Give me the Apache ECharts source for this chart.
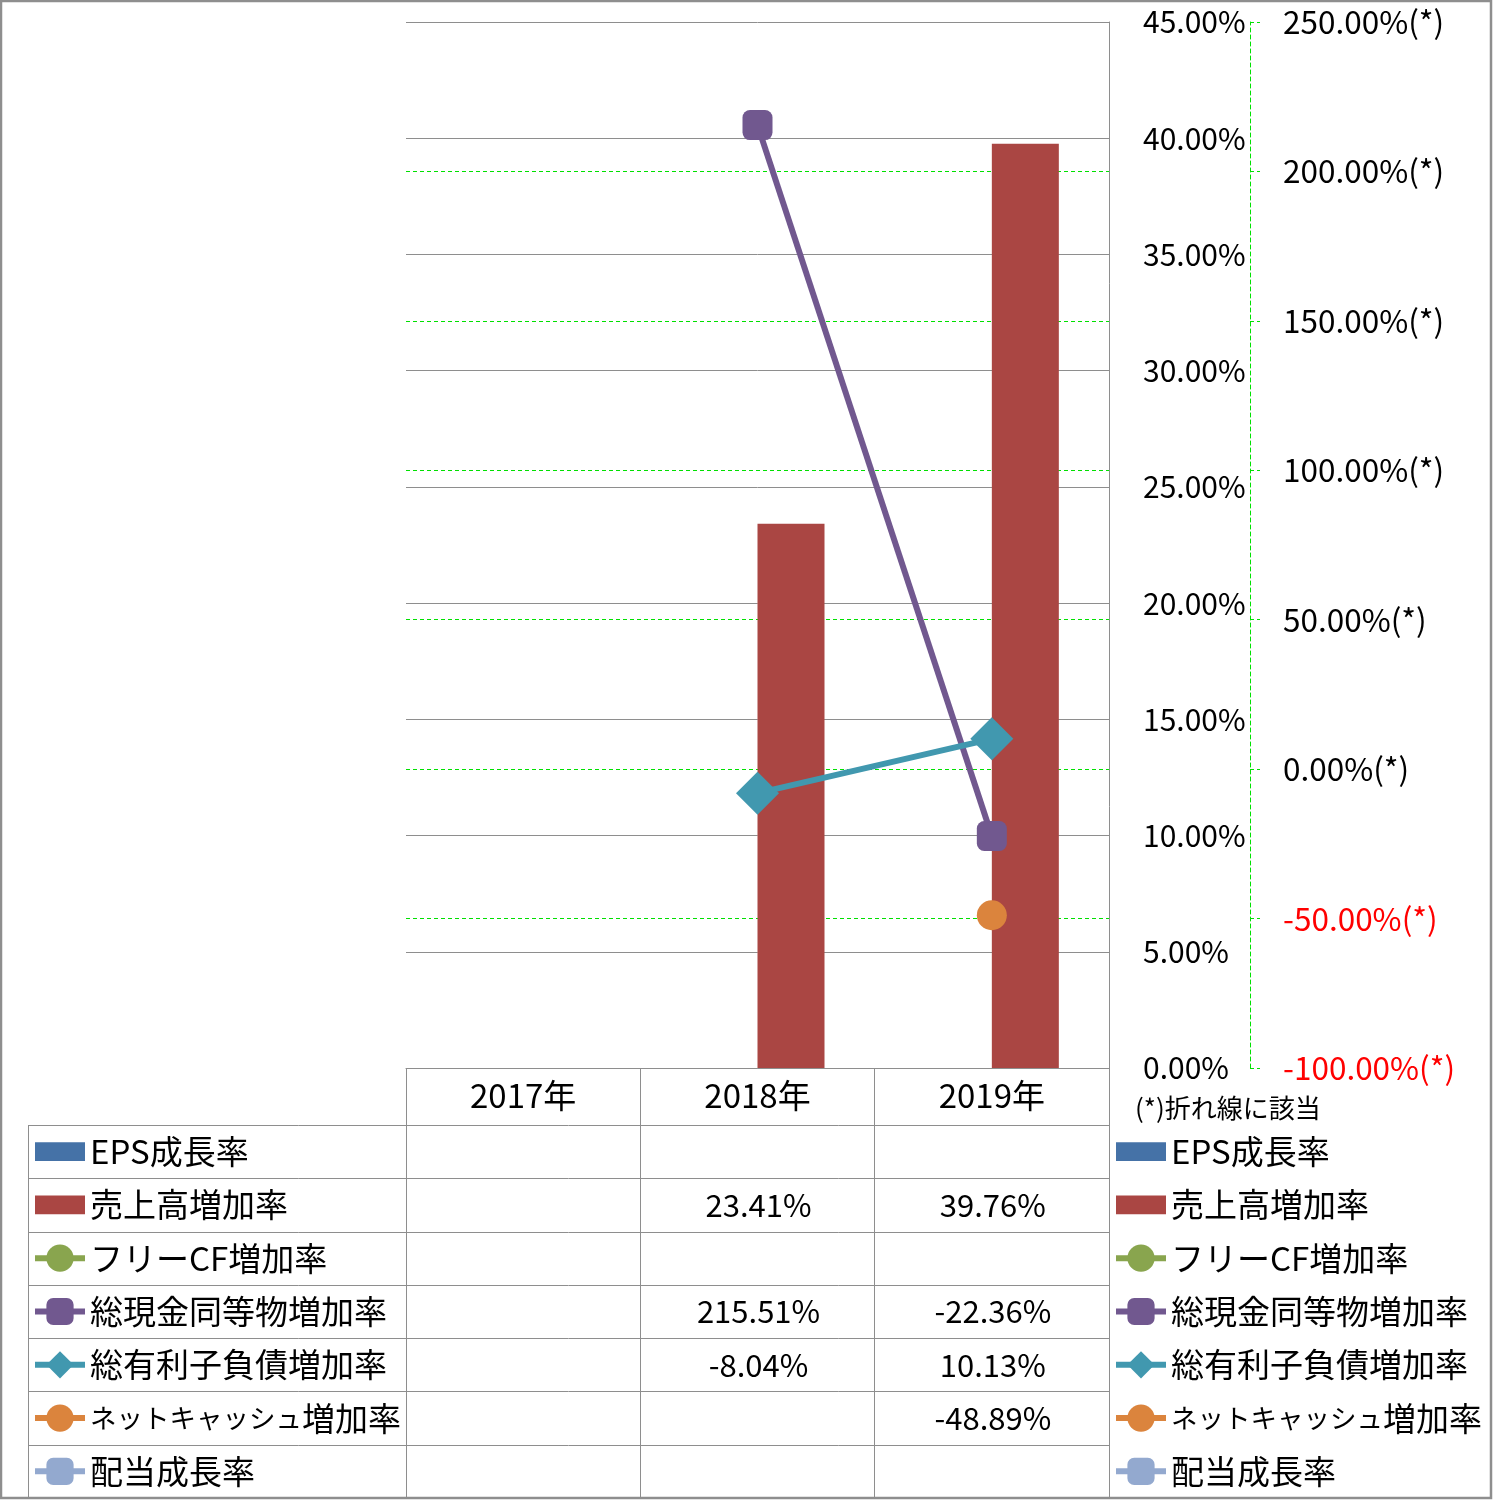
<!DOCTYPE html>
<html><head><meta charset="utf-8">
<script src="https://cdn.jsdelivr.net/npm/echarts@6/dist/echarts.min.js"></script>
<style>html,body{margin:0;padding:0;background:#fff}#c{width:1493px;height:1500px}</style>
</head><body><div id="c"></div>
<script>
const categories = ['2017年', '2018年', '2019年'];
const epsGrowth = [null, null, null];
const salesGrowth = [null, 23.41, 39.76];
const freeCfGrowth = [null, null, null];
const cashGrowth = [null, 215.51, -22.36];
const debtGrowth = [null, -8.04, 10.13];
const netCashGrowth = [null, null, -48.89];
const dividendGrowth = [null, null, null];
const leftAxis = { min: 0, max: 45, interval: 5 };
const rightAxis = { min: -100, max: 250, interval: 50 };
const seriesNames = ['EPS成長率', '売上高増加率', 'フリーCF増加率', '総現金同等物増加率', '総有利子負債増加率', 'ネットキャッシュ増加率', '配当成長率'];
const noteText = '(*)折れ線に該当';

const FONT = '"Noto Sans CJK JP", "Noto Sans", sans-serif';
const GRID_GREY = '#8e8e8e';
const GREEN = '#00e000';
const ROW_TOP = 1125, ROW_H = 373 / 7;

const chart = echarts.init(document.getElementById('c'));
const barIcon = 'path://M0,0 L45,0 L45,17 L0,17 Z';
const legendData = seriesNames.map((n, i) => (i < 2 ? { name: n, icon: barIcon } : { name: n }));
const legendFormatter = name => {
  const m = name.match(/^([\u30A0-\u30FF]+)(.*)$/);
  if (m && /[ッャュョ]/.test(m[1])) return '{k|' + m[1] + '}{n|' + m[2] + '}';
  return name;
};
const legendBase = {
  orient: 'vertical', top: ROW_TOP + ROW_H / 2 - 17, itemWidth: 50, itemHeight: 34, itemGap: ROW_H - 34,
  padding: 0, selectedMode: false, data: legendData, formatter: legendFormatter,
  lineStyle: { width: 6 },
  textStyle: {
    fontFamily: FONT, fontSize: 33, color: '#000', lineHeight: 34,
    rich: {
      k: { fontFamily: FONT, fontSize: 26.5, color: '#000', lineHeight: 34 },
      n: { fontFamily: FONT, fontSize: 33, color: '#000', lineHeight: 34 }
    }
  }
};
const lineSeries = (name, data, color, symbol, size) => ({
  name, type: 'line', yAxisIndex: 1, data, symbol, symbolSize: size,
  lineStyle: { color, width: 6 }, itemStyle: { color },
  emphasis: { disabled: true }, animation: false
});

const option = {
  backgroundColor: '#fff',
  animation: false,
  textStyle: { fontFamily: FONT },
  grid: { left: 406, right: 384, top: 22, bottom: 432, containLabel: false },
  legend: [Object.assign({ left: 32 }, legendBase), Object.assign({ left: 1113 }, legendBase)],
  xAxis: {
    type: 'category', data: categories,
    axisLine: { show: true, lineStyle: { color: GRID_GREY, width: 1 } },
    axisTick: { show: true, length: 430, lineStyle: { color: GRID_GREY, width: 1 } },
    axisLabel: { margin: 11, fontSize: 33, color: '#000', fontFamily: FONT }
  },
  yAxis: [
    {
      type: 'value', position: 'right', min: leftAxis.min, max: leftAxis.max, interval: leftAxis.interval,
      axisLine: { show: true, lineStyle: { color: GRID_GREY, width: 1 } },
      axisTick: { show: false },
      splitLine: { show: true, lineStyle: { color: GRID_GREY, width: 1 } },
      axisLabel: { margin: 34, fontSize: 30, color: '#000', fontFamily: FONT, formatter: v => v.toFixed(2) + '%' }
    },
    {
      type: 'value', position: 'right', offset: 141, min: rightAxis.min, max: rightAxis.max, interval: rightAxis.interval,
      axisLine: { show: true, lineStyle: { color: GREEN, width: 1, type: [4, 3] } },
      axisTick: { show: true, length: 10, lineStyle: { color: GREEN, width: 1, type: [4, 3] } },
      splitLine: { show: true, showMinLine: false, showMaxLine: false, lineStyle: { color: GREEN, width: 1, type: [4, 3] } },
      axisLabel: {
        margin: 33, fontSize: 31.5, fontFamily: FONT,
        color: v => (Number(v) < 0 ? '#ff0000' : '#000'),
        formatter: v => v.toFixed(2) + '%(*)'
      }
    }
  ],
  series: [
    { name: seriesNames[0], type: 'bar', data: epsGrowth, barWidth: 67, barGap: '0%', itemStyle: { color: '#4572A7' } },
    { name: seriesNames[1], type: 'bar', data: salesGrowth, barWidth: 67, barGap: '0%', itemStyle: { color: '#AA4643' } },
    lineSeries(seriesNames[2], freeCfGrowth, '#89A54E', 'circle', 30),
    lineSeries(seriesNames[3], cashGrowth, '#71588F', 'roundRect', 30),
    lineSeries(seriesNames[4], debtGrowth, '#4198AF', 'diamond', 43),
    lineSeries(seriesNames[5], netCashGrowth, '#DB843D', 'circle', 30),
    lineSeries(seriesNames[6], dividendGrowth, '#93A9CF', 'roundRect', 30)
  ]
};
chart.setOption(option);

// data table built from the arrays, positioned by the category axis
const tableRows = [epsGrowth, salesGrowth, freeCfGrowth, cashGrowth, debtGrowth, netCashGrowth, dividendGrowth];
const graphics = [];
graphics.push({ type: 'rect', shape: { x: 1, y: 1, width: 1490, height: 1497 }, style: { fill: 'none', stroke: GRID_GREY, lineWidth: 2.5 }, z: 100 });
for (let i = 0; i <= 7; i++) {
  const y = Math.round(ROW_TOP + i * ROW_H) + 0.5;
  graphics.push({ type: 'line', shape: { x1: 28, y1: y, x2: 1109, y2: y }, style: { stroke: GRID_GREY, lineWidth: 1 } });
}
graphics.push({ type: 'line', shape: { x1: 28.5, y1: ROW_TOP, x2: 28.5, y2: 1498 }, style: { stroke: GRID_GREY, lineWidth: 1 } });
graphics.push({ type: 'text', x: 1135, y: 1108, style: { text: noteText, fontSize: 26, fontFamily: FONT, fill: '#000', verticalAlign: 'middle' } });
tableRows.forEach((row, r) => {
  row.forEach((v, c) => {
    if (v == null) return;
    const x = chart.convertToPixel({ xAxisIndex: 0 }, categories[c]);
    graphics.push({ type: 'text', x: x + 1, y: ROW_TOP + r * ROW_H + ROW_H / 2,
      style: { text: v.toFixed(2) + '%', fontSize: 31, fontFamily: FONT, fill: '#000', align: 'center', verticalAlign: 'middle' } });
  });
});
chart.setOption({ graphic: graphics });
</script></body></html>
